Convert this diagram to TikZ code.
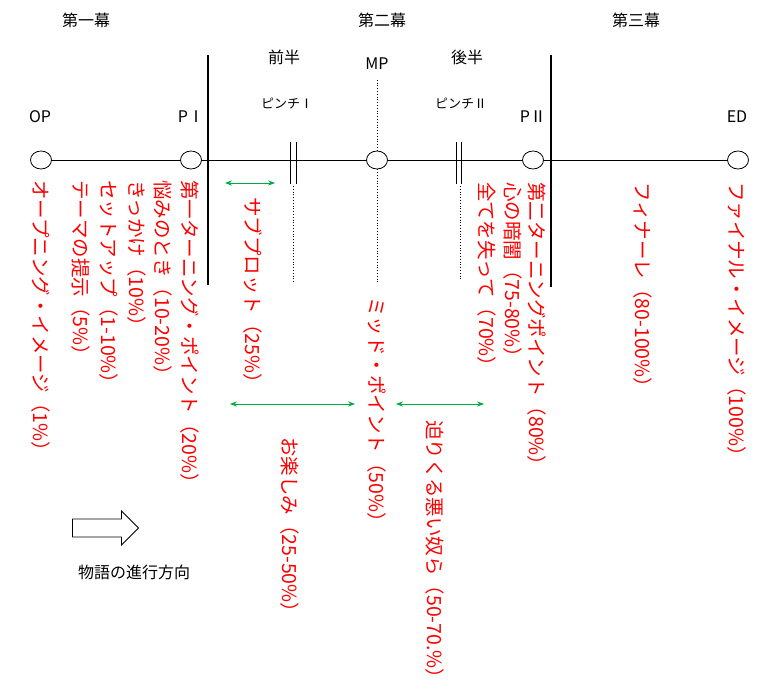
\documentclass[tikz,border=0pt]{standalone}
\usepackage{fontspec}
\setmainfont{Noto Sans CJK JP}
\usetikzlibrary{arrows.meta,shapes.arrows,shapes.geometric}
\definecolor{grn}{RGB}{0,170,70}
\tikzset{
 pt/.style={draw,thick,ellipse,minimum width=21pt,minimum height=18pt,inner sep=0,fill=white},
 vt/.style={text=red,rotate=-90,anchor=west,font=\fontsize{19.5}{19.5}\selectfont,inner sep=0},
 lbl/.style={font=\fontsize{16}{16}\selectfont},
 sm/.style={font=\fontsize{13}{13}\selectfont},
 garr/.style={draw=grn,thick,{Stealth[length=7pt]}-{Stealth[length=7pt]}},
 dots/.style={thick,dotted},
}
\begin{document}
\begin{tikzpicture}[x=1pt,y=-1pt]
\useasboundingbox (0,0) rectangle (775,692);
\draw[thick] (41,160) -- (738,160);
\node[pt] (op) at (41,160) {};
\node[pt] (p1) at (191,160) {};
\node[pt] (mp) at (377,160) {};
\node[pt] (p2) at (533,160) {};
\node[pt] (ed) at (738,160) {};
\draw[very thick] (208,55) -- (208,285);
\draw[very thick] (551,55) -- (551,287);
\draw[thick] (290,142) -- (290,184) (296,142) -- (296,184);
\draw[dots] (293,186) -- (293,282);
\draw[thick] (456,142) -- (456,184) (461,142) -- (461,184);
\draw[dots] (460,186) -- (460,280);
\draw[dots] (mp.north) -- (377,80);
\draw[dots] (mp.south) -- (377,282);
\node[lbl] (a1) at (86,20) {第一幕};
\node[lbl] (a2) at (382,20) {第二幕};
\node[lbl] (a3) at (636,20) {第三幕};
\node[lbl] (h1) at (284,57) {前半};
\node[lbl] (h2) at (467,57) {後半};
\node[lbl] (mpl) at (377,64) {MP};
\node[sm] (pi1) at (287,104) {ピンチⅠ};
\node[sm] (pi2) at (461,104) {ピンチⅡ};
\node[lbl] (opl) at (40,117) {OP};
\node[lbl] (p1l) at (191,117) {PⅠ};
\node[lbl] (p2l) at (533,117) {PⅡ};
\node[lbl] (edl) at (737,117) {ED};
\node[vt] (t1) at (41,180) {オープニング・イメージ（1\%）};
\node[vt] (t2) at (81,180) {テーマの提示（5\%）};
\node[vt] (t3) at (109,180) {セットアップ（1-10\%）};
\node[vt] (t4) at (137,180) {きっかけ（10\%）};
\node[vt] (t5) at (163,180) {悩みのとき（10-20\%）};
\node[vt] (t6) at (190,180) {第一ターニング・ポイント（20\%）};
\node[vt] (t7) at (253,197) {サブプロット（25\%）};
\node[vt] (t8) at (290,437) {お楽しみ（25-50\%）};
\node[vt] (t9) at (377,297) {ミッド・ポイント（50\%）};
\node[vt] (t10) at (435,420) {迫りくる悪い奴ら（50-70.\%）};
\node[vt] (t11) at (487,182) {全てを失って（70\%）};
\node[vt] (t12) at (513,182) {心の暗闇（75-80\%）};
\node[vt] (t13) at (537,182) {第二ターニングポイント（80\%）};
\node[vt] (t14) at (643,182) {フィナーレ（80-100\%）};
\node[vt] (t15) at (737,182) {ファイナル・イメージ（100\%）};
\coordinate (g1a) at (225,183); \coordinate (g1b) at (275,183);
\coordinate (g2a) at (230,404); \coordinate (g2b) at (355,404);
\coordinate (g3a) at (396,404); \coordinate (g3b) at (484,404);
\draw[garr] (g1a) -- (g1b);
\draw[garr] (g2a) -- (g2b);
\draw[garr] (g3a) -- (g3b);
\node[single arrow,draw,thick,minimum height=66pt,minimum width=34pt,single arrow head extend=3pt,inner sep=3pt] (dir) at (101,528) {};
\node[lbl] (dirl) at (134,572) {物語の進行方向};
\end{tikzpicture}
\end{document}
